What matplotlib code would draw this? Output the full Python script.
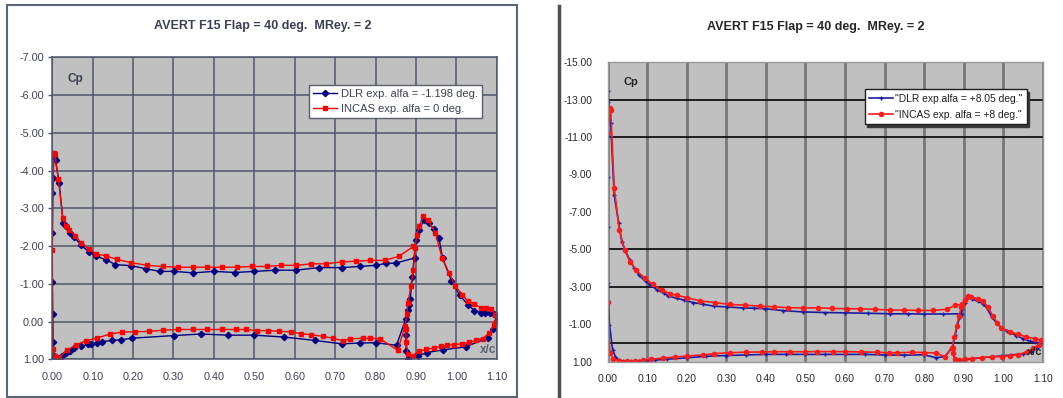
import numpy as np
import matplotlib
matplotlib.use("Agg")
import matplotlib.pyplot as plt
from matplotlib.patches import Rectangle
from matplotlib.lines import Line2D

plt.rcParams['font.family'] = ['Liberation Sans', 'DejaVu Sans']

# ---- data: left chart (alfa ~ 0 deg) ----
# order: main upper TE->LE, leading edge, main lower LE->TE, flap upper LE->TE, flap lower TE->LE
left_dlr_x = [0.899, 0.850, 0.825, 0.800, 0.761, 0.716, 0.660, 0.602, 0.552, 0.500, 0.452, 0.400,
              0.349, 0.302, 0.266, 0.231, 0.196, 0.156, 0.133, 0.108, 0.090, 0.071, 0.054, 0.044,
              0.033, 0.027, 0.017, 0.008, 0.004, 0.001, 0.000,
              0.000, 0.000, 0.001, 0.002, 0.005, 0.017, 0.025, 0.033, 0.044, 0.054, 0.072, 0.089,
              0.097, 0.110, 0.124, 0.149, 0.171, 0.198, 0.302, 0.369, 0.434, 0.500, 0.573, 0.650,
              0.716, 0.761, 0.801, 0.852,
              0.875, 0.880, 0.884, 0.886, 0.891, 0.8995, 0.908, 0.920, 0.932, 0.945, 0.957, 0.966,
              0.988, 1.008, 1.030, 1.045, 1.060, 1.072, 1.084, 1.094, 1.100,
              1.090, 1.079, 1.023, 0.968, 0.927, 0.906, 0.880, 0.876, 0.875]
left_dlr_cp = [-1.69, -1.55, -1.54, -1.49, -1.46, -1.43, -1.43, -1.36, -1.36, -1.33, -1.30, -1.33,
               -1.29, -1.33, -1.33, -1.40, -1.48, -1.51, -1.64, -1.73, -1.85, -2.03, -2.24, -2.36,
               -2.52, -2.61, -3.67, -4.27, -4.37, -3.81, -3.42,
               -2.36, -1.06, -0.21, 0.55, 0.92, 0.97, 0.92, 0.84, 0.77, 0.71, 0.66, 0.60,
               0.59, 0.56, 0.53, 0.50, 0.48, 0.44, 0.37, 0.33, 0.36, 0.36, 0.41, 0.50,
               0.59, 0.57, 0.56, 0.63,
               -0.07, -0.30, -0.45, -0.60, -1.18, -2.15, -2.43, -2.70, -2.60, -2.45, -2.22, -1.68,
               -1.08, -0.70, -0.43, -0.29, -0.24, -0.23, -0.22, -0.20, -0.15,
               0.20, 0.43, 0.67, 0.75, 0.82, 0.91, 1.00, 0.78, 0.35]

left_incas_x = [0.894, 0.858, 0.823, 0.787, 0.752, 0.716, 0.677, 0.641, 0.604, 0.566, 0.531, 0.494,
                0.456, 0.420, 0.384, 0.348, 0.310, 0.273, 0.235, 0.196, 0.159, 0.133, 0.109, 0.090,
                0.072, 0.056, 0.042, 0.033, 0.026, 0.015, 0.006, 0.0035, 0.000,
                0.001, 0.007, 0.017, 0.036, 0.058, 0.083, 0.110, 0.143, 0.173, 0.204, 0.239, 0.273,
                0.310, 0.348, 0.384, 0.419, 0.454, 0.479, 0.506, 0.534, 0.562, 0.590, 0.615, 0.641,
                0.669, 0.694, 0.719, 0.736, 0.769, 0.786, 0.812, 0.855,
                0.873, 0.877, 0.881, 0.887, 0.894, 0.898, 0.902, 0.908, 0.918, 0.930, 0.948, 0.965,
                0.982, 0.998, 1.015, 1.028, 1.045, 1.061, 1.073, 1.086, 1.097, 1.099,
                1.094, 1.082, 1.065, 1.048, 1.032, 1.015, 0.994, 0.977, 0.961, 0.944, 0.925, 0.907,
                0.892, 0.880, 0.876, 0.875]
left_incas_cp = [-1.99, -1.73, -1.62, -1.62, -1.60, -1.58, -1.53, -1.53, -1.49, -1.49, -1.46, -1.46,
                 -1.44, -1.44, -1.44, -1.44, -1.44, -1.46, -1.49, -1.56, -1.65, -1.74, -1.79, -1.92,
                 -2.08, -2.28, -2.43, -2.54, -2.74, -3.77, -4.45, -4.46, -1.89,
                 0.74, 0.92, 0.96, 0.76, 0.62, 0.51, 0.44, 0.33, 0.28, 0.27, 0.26, 0.23,
                 0.21, 0.21, 0.21, 0.21, 0.21, 0.21, 0.24, 0.24, 0.26, 0.27, 0.32, 0.35,
                 0.39, 0.44, 0.51, 0.46, 0.44, 0.44, 0.46, 0.76,
                 0.12, -0.21, -0.50, -0.93, -1.37, -1.95, -2.30, -2.52, -2.79, -2.68, -2.35, -1.68,
                 -1.29, -0.93, -0.71, -0.54, -0.47, -0.36, -0.36, -0.32, -0.18, 0.00,
                 0.08, 0.30, 0.45, 0.50, 0.55, 0.59, 0.61, 0.63, 0.66, 0.70, 0.74, 0.79,
                 0.90, 0.86, 0.55, 0.20]

# ---- data: right chart (alfa ~ +8 deg) ----
right_dlr_x = [0.895, 0.848, 0.800, 0.759, 0.713, 0.659, 0.600, 0.550, 0.495, 0.444, 0.398, 0.369,
               0.343, 0.301, 0.268, 0.242, 0.217, 0.192, 0.175, 0.154, 0.142, 0.125, 0.108, 0.096,
               0.079, 0.068, 0.056, 0.045, 0.036, 0.028, 0.017, 0.008, 0.002, 0.000,
               0.000, 0.000, 0.000, 0.000, 0.005, 0.013, 0.020, 0.028, 0.040, 0.060, 0.080, 0.100,
               0.120, 0.150, 0.200, 0.250, 0.300, 0.350, 0.400, 0.450, 0.500, 0.550, 0.600, 0.650,
               0.700, 0.750, 0.800, 0.830, 0.852,
               0.872, 0.878, 0.884, 0.890, 0.896, 0.902, 0.909, 0.920, 0.935, 0.948, 0.960, 0.970,
               0.983, 0.995, 1.010, 1.033, 1.050, 1.067, 1.080, 1.092, 1.100,
               1.085, 1.070, 1.050, 1.020, 0.995, 0.970, 0.945, 0.920, 0.900, 0.888, 0.877, 0.873,
               0.872]
right_dlr_cp = [-1.55, -1.54, -1.54, -1.55, -1.55, -1.58, -1.60, -1.62, -1.65, -1.72, -1.82, -1.85,
                -1.86, -1.92, -1.96, -2.06, -2.15, -2.29, -2.38, -2.50, -2.65, -2.83, -3.10, -3.28,
                -3.63, -3.99, -4.44, -4.93, -5.41, -6.42, -7.90, -11.74, -12.90, -13.48,
                -12.06, -8.85, -6.21, -3.22, -0.95, 0.38, 0.74, 0.92, 0.98, 1.00, 0.98, 0.96,
                0.92, 0.88, 0.80, 0.72, 0.68, 0.65, 0.62, 0.62, 0.62, 0.62, 0.62, 0.62,
                0.65, 0.66, 0.64, 0.80, 0.74,
                0.20, -0.40, -0.95, -1.40, -1.80, -2.15, -2.38, -2.35, -2.22, -2.10, -1.80, -1.40,
                -1.05, -0.80, -0.62, -0.38, -0.22, -0.08, -0.03, 0.00, 0.00,
                0.30, 0.48, 0.58, 0.65, 0.70, 0.75, 0.80, 0.86, 0.92, 1.00, 0.95, 0.50,
                0.25]

right_incas_x = [0.895, 0.878, 0.857, 0.821, 0.785, 0.749, 0.713, 0.675, 0.637, 0.604, 0.566, 0.532,
                 0.495, 0.457, 0.421, 0.386, 0.348, 0.310, 0.272, 0.234, 0.200, 0.175, 0.158, 0.137,
                 0.114, 0.095, 0.072, 0.057, 0.043, 0.030, 0.017, 0.008, 0.006, 0.000,
                 0.000, 0.006, 0.015, 0.030, 0.050, 0.070, 0.090, 0.110, 0.140, 0.170, 0.200, 0.240,
                 0.270, 0.310, 0.350, 0.390, 0.420, 0.460, 0.500, 0.530, 0.570, 0.600, 0.640, 0.680,
                 0.710, 0.730, 0.770, 0.800, 0.830, 0.852,
                 0.870, 0.876, 0.882, 0.888, 0.894, 0.902, 0.911, 0.919, 0.936, 0.948, 0.961, 0.973,
                 0.985, 0.995, 1.016, 1.037, 1.058, 1.079, 1.096,
                 1.089, 1.076, 1.059, 1.038, 1.017, 0.996, 0.971, 0.945, 0.920, 0.904, 0.888, 0.877,
                 0.873, 0.872]
right_incas_cp = [-2.05, -2.00, -1.79, -1.73, -1.73, -1.75, -1.75, -1.79, -1.82, -1.82, -1.84, -1.87,
                  -1.86, -1.88, -1.92, -1.96, -2.01, -2.05, -2.15, -2.24, -2.42, -2.54, -2.63, -2.81,
                  -3.13, -3.44, -3.88, -4.33, -4.96, -6.03, -8.26, -12.45, -12.54, -11.24,
                  -2.20, 0.56, 0.85, 0.97, 0.99, 0.97, 0.93, 0.88, 0.82, 0.76, 0.71, 0.65,
                  0.58, 0.53, 0.50, 0.49, 0.48, 0.48, 0.48, 0.47, 0.47, 0.47, 0.49, 0.50,
                  0.54, 0.53, 0.51, 0.52, 0.55, 0.74,
                  0.30, -0.30, -0.90, -1.45, -1.93, -2.30, -2.50, -2.44, -2.36, -2.25, -1.90, -1.45,
                  -1.05, -0.80, -0.60, -0.45, -0.32, -0.22, -0.15,
                  0.12, 0.30, 0.48, 0.63, 0.69, 0.74, 0.74, 0.79, 0.84, 0.86, 0.92, 0.88,
                  0.55, 0.30]

left_labels = ["DLR exp. alfa = -1.198 deg.", "INCAS exp. alfa = 0 deg."]
right_labels = ['"DLR exp.alfa = +8.05 deg."', '"INCAS exp. alfa = +8 deg."']
title = "AVERT F15 Flap = 40 deg.  MRey. = 2"

W, H = 1063, 398
fig = plt.figure(figsize=(W / 100, H / 100), dpi=100)

def px_axes(x0, y0, x1, y1):
    # pixel box (top-left origin) -> figure axes
    return fig.add_axes([x0 / W, 1 - y1 / H, (x1 - x0) / W, (y1 - y0) / H])

xticks = np.round(np.arange(0, 1.101, 0.1), 2)

# ---------------- left chart ----------------
slate = '#3c4152'
gridc = '#4f5769'
ax1 = px_axes(52.3, 57.4, 496.7, 359.3)
ax1.set_facecolor('#c0c0c0')
ax1.set_xlim(0, 1.1)
ax1.set_ylim(1, -7)
yt1 = np.arange(-7, 1.01, 1.0)
ax1.set_yticks(yt1)
ax1.set_yticklabels([f"{v:.2f}" for v in yt1])
ax1.set_xticks(xticks)
ax1.set_xticklabels([f"{v:.2f}" for v in xticks])
ax1.grid(True, color=gridc, linewidth=1.1)
ax1.set_axisbelow(True)
for s in ax1.spines.values():
    s.set_color(gridc)
    s.set_linewidth(1.1)
ax1.tick_params(axis='y', length=3, width=1, color=gridc, pad=3, labelsize=7.8, labelcolor=slate)
ax1.tick_params(axis='x', length=0, pad=9, labelsize=7.8, labelcolor=slate)

ax1.plot(left_dlr_x, left_dlr_cp, color='#000080', lw=1.0, marker='D', ms=3.2,
         label=left_labels[0])
ax1.plot(left_incas_x, left_incas_cp, color='#ff0000', lw=1.0, marker='s', ms=2.8,
         label=left_labels[1])
ax1.text(0.053, 0.928, "Cp", transform=ax1.transAxes, ha='center', va='center',
         fontsize=8.5, fontweight='bold', color=slate)
ax1.text(0.981, 0.031, "x/c", transform=ax1.transAxes, ha='center', va='center',
         fontsize=8.5, fontweight='bold', color='#5a6272')
leg1 = ax1.legend(loc='upper right', bbox_to_anchor=(0.966, 0.909), fontsize=8,
                  frameon=True, fancybox=False, framealpha=1, edgecolor='#5a5f70',
                  handlelength=2.2, handletextpad=0.3, borderpad=0.35, labelspacing=0.45,
                  borderaxespad=0)
leg1.get_frame().set_linewidth(1.0)
for t in leg1.get_texts():
    t.set_color(slate)

fig.text(262.6 / W, 1 - 26 / H, title, ha='center', va='center', fontsize=9,
         fontweight='bold', color=slate)
fig.patches.append(Rectangle((7 / W, 1 - 396.7 / H), (516.5 - 7) / W, (396.7 - 5) / H,
                             transform=fig.transFigure, fill=False, edgecolor='#5c6478', lw=1.5))

# ---------------- right chart ----------------
ax2 = px_axes(607.5, 62.3, 1043, 361.5)
ax2.set_facecolor('#c0c0c0')
ax2.set_xlim(0, 1.1)
ax2.set_ylim(1, -15)
yt2 = np.arange(-15, 1.01, 2.0)
ax2.set_yticks(yt2)
ax2.set_yticklabels([f"{v:.2f}" for v in yt2])
ax2.set_xticks(xticks)
ax2.set_xticklabels([f"{v:.2f}" for v in xticks])
ax2.grid(True, axis='x', color='#787878', linewidth=2.0)
for yv in [-13, -11, -5, -3, 0]:
    ax2.axhline(yv, color='#111111', lw=1.3, zorder=0.9)
ax2.set_axisbelow(True)
for s in ax2.spines.values():
    s.set_color('#9a9a9a')
    s.set_linewidth(1.0)
ax2.tick_params(axis='y', length=0, pad=11, labelsize=7.4, labelcolor='#2a2a2a')
ax2.tick_params(axis='x', length=0, pad=9, labelsize=7.4, labelcolor='#2a2a2a')

ax2.plot(right_dlr_x, right_dlr_cp, color='#1c1ca0', lw=1.2, marker='+', ms=3.5, mew=1.0,
         label=right_labels[0])
ax2.plot(right_incas_x, right_incas_cp, color='#ff1a1a', lw=1.2, marker='o', ms=3.0,
         label=right_labels[1])
ax2.text(0.053, 0.935, "Cp", transform=ax2.transAxes, ha='center', va='center',
         fontsize=8, fontweight='bold', color='#222222')
ax2.text(0.982, 0.033, "x/c", transform=ax2.transAxes, ha='center', va='center',
         fontsize=8, fontweight='bold', color='#222222')
leg2 = ax2.legend(loc='upper right', bbox_to_anchor=(0.9626, 0.9098), fontsize=7.4,
                  frameon=True, fancybox=False, framealpha=1, edgecolor='#202020',
                  handlelength=2.3, handletextpad=0.2, borderpad=0.45, labelspacing=0.55,
                  borderaxespad=0, shadow={'color': '#3a3a3a', 'alpha': 1.0})
leg2.get_frame().set_linewidth(1.0)
for t in leg2.get_texts():
    t.set_color('#202020')

fig.text(816 / W, 1 - 27 / H, title, ha='center', va='center', fontsize=9,
         fontweight='bold', color='#262626')
fig.lines.append(Line2D([558.5 / W, 558.5 / W], [0, 1 - 6 / H], transform=fig.transFigure,
                        color='#505050', lw=2.5))

fig.savefig("out.png", dpi=100)
